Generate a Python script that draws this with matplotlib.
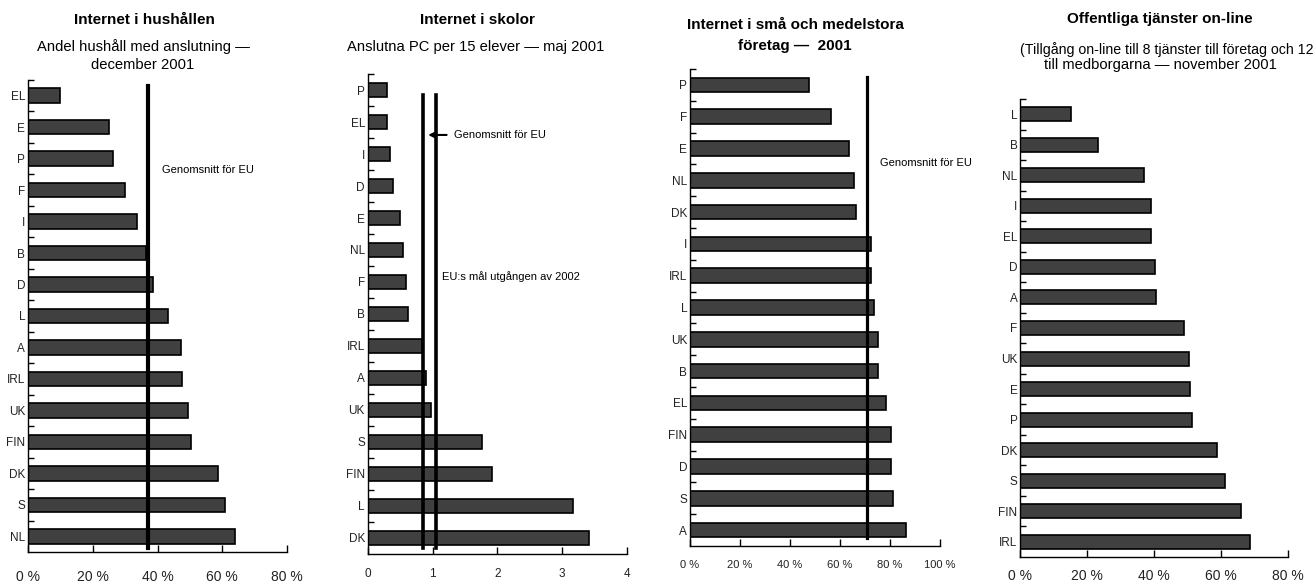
import matplotlib
matplotlib.use("Agg")
import matplotlib.pyplot as plt
from matplotlib.ticker import FixedLocator

plt.rcParams['font.family'] = ['Liberation Sans', 'DejaVu Sans']

# Internet i hushållen (% hushåll)
hh_land = ["EL", "E", "P", "F", "I", "B", "D", "L", "A", "IRL", "UK", "FIN", "DK", "S", "NL"]
hh_val = [10, 25, 26.2, 30, 33.6, 36.6, 38.7, 43.2, 47.2, 47.7, 49.5, 50.2, 58.8, 60.9, 63.8]
hh_eu = 37.2

# Internet i skolor (PC per 15 elever)
sk_land = ["P", "EL", "I", "D", "E", "NL", "F", "B", "IRL", "A", "UK", "S", "FIN", "L", "DK"]
sk_val = [0.30, 0.30, 0.34, 0.39, 0.50, 0.55, 0.59, 0.62, 0.83, 0.90, 0.98, 1.77, 1.91, 3.17, 3.41]
sk_eu = 0.86
sk_mal = 1.06

# Internet i små och medelstora företag (%)
ft_land = ["P", "F", "E", "NL", "DK", "I", "IRL", "L", "UK", "B", "EL", "FIN", "D", "S", "A"]
ft_val = [47.5, 56.3, 63.5, 65.5, 66.3, 72.3, 72.3, 73.5, 75.3, 75.3, 78.3, 80.3, 80.3, 81.3, 86.4]
ft_eu = 70.7

# Offentliga tjänster on-line (%)
ot_land = ["L", "B", "NL", "I", "EL", "D", "A", "F", "UK", "E", "P", "DK", "S", "FIN", "IRL"]
ot_val = [15.1, 23.3, 36.9, 39.1, 39.1, 40.3, 40.5, 49.0, 50.4, 50.6, 51.4, 58.7, 61.1, 66.0, 68.6]

W, H = 1316, 584
fig = plt.figure(figsize=(W / 100, H / 100), dpi=100)

TFS = 11      # titles
SFS = 10.6    # subtitles
NFS = 8       # notes in the plots


def make_ax(x0, x1, y0, y1):
    return fig.add_axes([x0 / W, 1 - y1 / H, (x1 - x0) / W, (y1 - y0) / H])


def bars(ax, land, val, xmax, xticks, xlabels, xfs, pad):
    n = len(land)
    ax.barh(range(n), val, height=0.46, color="#404040", edgecolor="black", linewidth=1.2, zorder=2)
    ax.set_ylim(n - 0.5, -0.5)
    ax.set_xlim(0, xmax)
    ax.set_yticks(range(n))
    ax.set_yticklabels(land, fontsize=8.5, color="#222222")
    ax.yaxis.set_minor_locator(FixedLocator([i - 0.5 for i in range(n)]))
    ax.tick_params(axis="y", which="major", length=0, pad=2)
    ax.tick_params(axis="y", which="minor", direction="in", length=4, width=1)
    ax.set_xticks(xticks)
    ax.set_xticklabels(xlabels, fontsize=xfs, color="#222222")
    ax.tick_params(axis="x", direction="in", length=5, width=1, pad=pad)
    for s in ["top", "right"]:
        ax.spines[s].set_visible(False)
    for s in ["left", "bottom"]:
        ax.spines[s].set_linewidth(1)


pct = lambda t: [f"{v} %" for v in t]

# panel 1
ax1 = make_ax(28, 287, 80, 552)
bars(ax1, hh_land, hh_val, 80, [0, 20, 40, 60, 80], pct([0, 20, 40, 60, 80]), 10, 13)
ax1.axvline(hh_eu, ymin=0.008, ymax=0.987, color="black", lw=3, zorder=3)
ax1.text(0.517, 0.809, "Genomsnitt för EU", transform=ax1.transAxes, fontsize=NFS, va="center")
fig.text(144 / W, 1 - 20 / H, "Internet i hushållen", ha="center", va="center", fontsize=TFS, weight="bold")
fig.text(143 / W, 1 - 47 / H, "Andel hushåll med anslutning —", ha="center", va="center", fontsize=SFS)
fig.text(143 / W, 1 - 65 / H, "december 2001", ha="center", va="center", fontsize=SFS)

# panel 2
ax2 = make_ax(367.7, 627, 74, 554)
bars(ax2, sk_land, sk_val, 4, [0, 1, 2, 3, 4], ["0", "1", "2", "3", "4"], 8.5, 10)
ax2.axvline(sk_eu, ymin=0.0125, ymax=0.956, color="black", lw=2.6, zorder=3)
ax2.axvline(sk_mal, ymin=0.0125, ymax=0.956, color="black", lw=2.6, zorder=3)
ax2.annotate("", xy=(sk_eu + 0.03, 0.873), xycoords=("data", "axes fraction"),
             xytext=(1.26, 0.873), textcoords=("data", "axes fraction"),
             arrowprops=dict(arrowstyle="->", color="black", lw=1.5, mutation_scale=10))
ax2.text(0.333, 0.873, "Genomsnitt för EU", transform=ax2.transAxes, fontsize=NFS, va="center")
ax2.text(0.285, 0.577, "EU:s mål utgången av 2002", transform=ax2.transAxes, fontsize=NFS, va="center")
fig.text(477 / W, 1 - 20 / H, "Internet i skolor", ha="center", va="center", fontsize=TFS, weight="bold")
fig.text(476 / W, 1 - 47 / H, "Anslutna PC per 15 elever — maj 2001", ha="center", va="center", fontsize=SFS)

# panel 3
ax3 = make_ax(690, 940, 69, 546)
bars(ax3, ft_land, ft_val, 100, [0, 20, 40, 60, 80, 100], pct([0, 20, 40, 60, 80, 100]), 8, 10)
ax3.axvline(ft_eu, ymin=0.017, ymax=0.983, color="black", lw=2.3, zorder=3)
ax3.text(0.76, 0.803, "Genomsnitt för EU", transform=ax3.transAxes, fontsize=NFS, va="center")
fig.text(795 / W, 1 - 25 / H, "Internet i små och medelstora", ha="center", va="center", fontsize=TFS, weight="bold")
fig.text(795 / W, 1 - 46 / H, "företag —  2001", ha="center", va="center", fontsize=TFS, weight="bold")

# panel 4
ax4 = make_ax(1020.3, 1288.3, 99, 557)
bars(ax4, ot_land, ot_val, 80, [0, 20, 40, 60, 80], pct([0, 20, 40, 60, 80]), 10, 9)
fig.text(1160 / W, 1 - 19 / H, "Offentliga tjänster on-line", ha="center", va="center", fontsize=TFS, weight="bold")
fig.text(1313 / W, 1 - 50 / H, "(Tillgång on-line till 8 tjänster till företag och 12", ha="right", va="center", fontsize=10.2)
fig.text(1160 / W, 1 - 65 / H, "till medborgarna — november 2001", ha="center", va="center", fontsize=SFS)

fig.savefig("out.png", dpi=100)
